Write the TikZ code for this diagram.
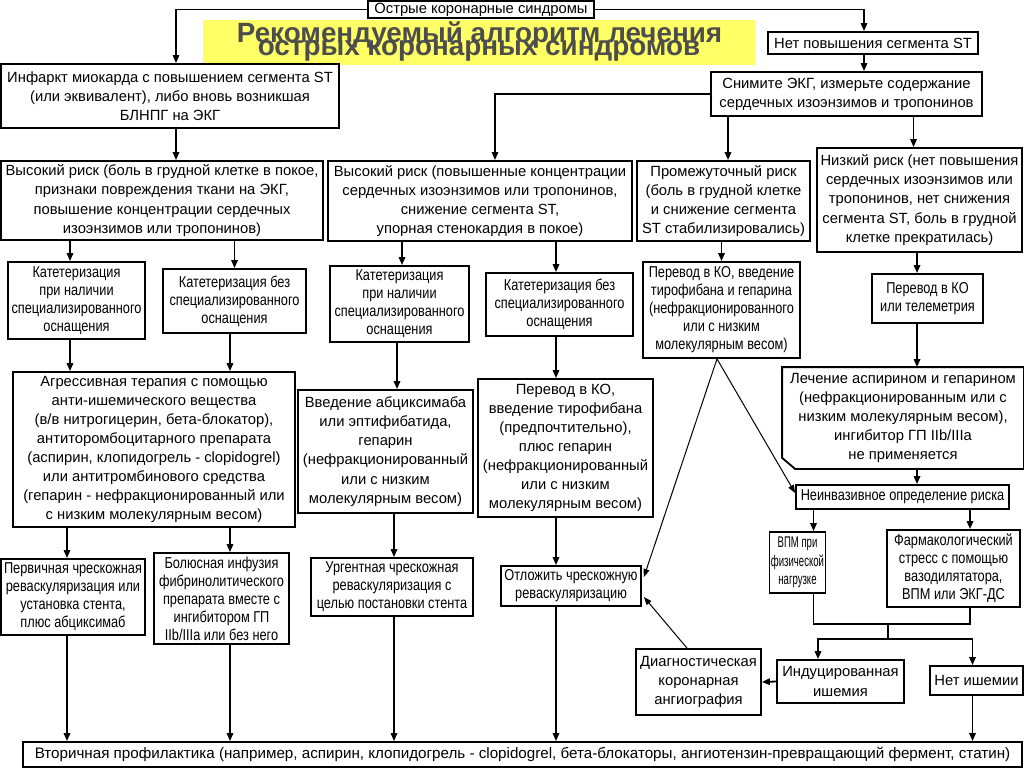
\documentclass[tikz,border=0pt]{standalone}
\usepackage{fontspec}
\setmainfont{Liberation Sans}
\newfontfamily\narrowfont[FakeStretch=0.81]{Liberation Sans}
\newfontfamily\tightfont[FakeStretch=0.62]{Liberation Sans}
\usetikzlibrary{arrows.meta,calc}

\definecolor{titleyellow}{RGB}{255,255,102}
\definecolor{titlegray}{RGB}{77,77,77}

\begin{document}
\begin{tikzpicture}[x=0.25mm, y=-0.25mm,
    block/.style ={draw, fill=white, line width=0.45mm, align=center, inner sep=1pt,
                   font=\fontsize{10.5}{13.6}\selectfont},
    narrowblock/.style ={block, font=\narrowfont\fontsize{11.2}{12.8}\selectfont},
    tightblock/.style ={block, font=\tightfont\fontsize{11}{13}\selectfont},
    heading/.style ={text=titlegray, inner sep=0pt, font=\bfseries\fontsize{19.8}{20}\selectfont},
    px/.style 2 args={minimum width=#1*0.25mm, minimum height=#2*0.25mm},
    joinline/.style ={line width=0.45mm},
    link/.style ={line width=0.45mm, -{Triangle[length=2mm,width=1.6mm]}},
    thinlink/.style ={line width=0.25mm, -{Triangle[length=2mm,width=1.5mm]}}]
   \useasboundingbox (0,0) rectangle (1024,767);
   \fill[white] (0,0) rectangle (1024,767);

   % title
   \fill[titleyellow] (203,20) rectangle (755,65);
   \node[heading, anchor=base] (title1) at (479.5,42.5) {Рекомендуемый алгоритм лечения};
   \node[heading, anchor=base] (title2) at (479,56) {острых коронарных синдромов};

   % top row
   \node[block, px={226}{17}] (acs) at (481,9.5) {Острые коронарные синдромы};
   \node[block, px={338}{64}] (stemi) at (170,96)
     {Инфаркт миокарда с повышением сегмента ST\\(или эквивалент), либо вновь возникшая\\БЛНПГ на ЭКГ};
   \node[block, px={210}{22}] (nost) at (873,43) {Нет повышения сегмента ST};
   \node[block, px={271}{44}] (ecg) at (846.5,94)
     {Снимите ЭКГ, измерьте содержание\\сердечных изоэнзимов и тропонинов};

   % risk groups
   \node[block, px={322}{79}] (hr1) at (162,200.5)
     {Высокий риск (боль в грудной клетке в покое,\\признаки повреждения ткани на ЭКГ,\\повышение концентрации сердечных\\изоэнзимов или тропонинов)};
   \node[block, px={304}{80}] (hr2) at (480,201)
     {Высокий риск (повышенные концентрации\\сердечных изоэнзимов или тропонинов,\\снижение сегмента ST,\\упорная стенокардия в покое)};
   \node[block, px={173}{80}] (mid) at (723.5,201)
     {Промежуточный риск\\(боль в грудной клетке\\и снижение сегмента\\ST стабилизировались)};
   \node[block, px={205}{104}] (low) at (919.5,200)
     {Низкий риск (нет повышения\\сердечных изоэнзимов или\\тропонинов, нет снижения\\сегмента ST, боль в грудной\\клетке прекратилась)};

   % catheterisation
   \node[narrowblock, px={137}{77}] (cath1) at (76.5,300.5)
     {Катетеризация\\при наличии\\специализированного\\оснащения};
   \node[narrowblock, px={143}{64}] (cath2) at (234.5,301)
     {Катетеризация без\\специализированного\\оснащения};
   \node[narrowblock, px={139}{76}] (cath3) at (399.5,304)
     {Катетеризация\\при наличии\\специализированного\\оснащения};
   \node[narrowblock, px={147}{63}] (cath4) at (559.5,304.5)
     {Катетеризация без\\специализированного\\оснащения};
   \node[narrowblock, px={157}{96}] (ccu1) at (721.5,310)
     {Перевод в КО, введение\\тирофибана и гепарина\\(нефракционированного\\или с низким\\молекулярным весом)};
   \node[narrowblock, px={111}{49}] (tele) at (927.5,298.5) {Перевод в КО\\или телеметрия};

   % therapy
   \node[block, px={282}{155}] (aggr) at (154,449.5)
     {Агрессивная терапия с помощью\\анти-ишемического вещества\\(в/в нитрогицерин, бета-блокатор),\\антиторомбоцитарного препарата\\(аспирин, клопидогрель - clopidogrel)\\или антитромбинового средства\\(гепарин - нефракционированный или\\с низким молекулярным весом)};
   \node[block, px={175}{123}] (abcx) at (385.5,451.5)
     {Введение абциксимаба\\или эптифибатида,\\гепарин\\(нефракционированный\\или с низким\\молекулярным весом)};
   \node[block, px={175}{138}] (ccu2) at (565.5,448)
     {Перевод в КО,\\введение тирофибана\\(предпочтительно),\\плюс гепарин\\(нефракционированный\\или с низким\\молекулярным весом)};
   \node[block, draw=none, px={240}{100}] (asp) at (903,418)
     {Лечение аспирином и гепарином\\(нефракционированным или с\\низким молекулярным весом),\\ингибитор ГП IIb/IIIa\\не применяется};
   \draw[joinline] (asp.north west) -- (asp.north east) -- (asp.south east)
     -- ($(asp.south west)+(13,0)$) -- ($(asp.south west)+(0,-11)$) -- cycle;

   % stress testing
   \node[narrowblock, px={213}{24}] (noninv) at (902.5,497) {Неинвазивное определение риска};
   \node[tightblock, px={55}{61}] (ett) at (797.5,562.5) {ВПМ при\\физической\\нагрузке};
   \node[narrowblock, px={133}{77}] (pharm) at (953.5,568.5)
     {Фармакологический\\стресс с помощью\\вазодилятатора,\\ВПМ или ЭКГ-ДС};

   % revascularisation
   \node[narrowblock, px={144}{76}] (pci1) at (73,597)
     {Первичная чрескожная\\реваскуляризация или\\установка стента,\\плюс абциксимаб};
   \node[narrowblock, px={135}{91}] (bolus) at (221.5,598.5)
     {Болюсная инфузия\\фибринолитического\\препарата вместе с\\ингибитором ГП\\IIb/IIIa или без него};
   \node[narrowblock, px={162}{58}] (urg) at (392,587)
     {Ургентная чрескожная\\реваскуляризация с\\целью постановки стента};
   \node[narrowblock, px={140}{40}] (defer) at (571,586)
     {Отложить чрескожную\\реваскуляризацию};
   \node[block, px={125}{66}] (diag) at (698.5,682) {Диагностическая\\коронарная\\ангиография};
   \node[block, px={127}{43}] (ind) at (840.5,681.5) {Индуцированная\\ишемия};
   \node[block, px={93}{29}] (noisch) at (976.5,680.5) {Нет ишемии};
   \node[block, px={999}{25}, font=\fontsize{10.8}{13.6}\selectfont] (sec) at (522.5,754.5)
     {Вторичная профилактика (например, аспирин, клопидогрель - clopidogrel, бета-блокаторы, ангиотензин-превращающий фермент, статин)};

   % connectors
   \draw[link] (acs.west) -| ($(stemi.north)+(6,0)$);
   \draw[link] (acs.east) -| ($(nost.north)+(-9,0)$);
   \draw[link] ($(nost.south)+(-9,0)$) -- ($(nost.south |- ecg.north)+(-9,0)$);
   \draw[link] ($(stemi.south)+(6,0)$) -- ($(stemi.south |- hr1.north)+(6,0)$);
   \draw[link] (ecg.west) -| ($(hr2.north)+(15,0)$);
   \draw[link] ($(mid.north |- ecg.south)+(4.5,0)$) -- ($(mid.north)+(4.5,0)$);
   \draw[link] ($(low.north |- ecg.south)+(-6,0)$) -- ($(low.north)+(-6,0)$);

   \draw[link] ($(cath1.north |- hr1.south)+(-6.5,0)$) -- ($(cath1.north)+(-6.5,0)$);
   \draw[link] (cath2.north |- hr1.south) -- (cath2.north);
   \draw[link] ($(cath3.north |- hr2.south)+(2.5,0)$) -- ($(cath3.north)+(2.5,0)$);
   \draw[link] ($(cath4.north |- hr2.south)+(-3.5,0)$) -- ($(cath4.north)+(-3.5,0)$);
   \draw[link] (ccu1.north |- mid.south) -- (ccu1.north);
   \draw[link] ($(low.south)+(-2.5,0)$) -- ($(low.south |- tele.north)+(-2.5,0)$);
   \draw[link] ($(low.south |- tele.south)+(-2.5,0)$) -- ($(low.south |- asp.north)+(-2.5,0)$);

   \draw[link] ($(cath1.south)+(-6.5,0)$) -- ($(cath1.south |- aggr.north)+(-6.5,0)$);
   \draw[link] ($(cath2.south)+(-4.5,0)$) -- ($(cath2.south |- aggr.north)+(-4.5,0)$);
   \draw[link] ($(cath3.south)+(-2.5,0)$) -- ($(cath3.south |- abcx.north)+(-2.5,0)$);
   \draw[link] ($(cath4.south)+(-3.5,0)$) -- ($(cath4.south |- ccu2.north)+(-3.5,0)$);
   \draw[link] ($(asp.south)+(14,0)$) -- ($(asp.south |- noninv.north)+(14,0)$);

   \draw[thinlink] ($(ccu1.south)+(-4.5,0)$) -- ($(noninv.west)+(0,-4)$);
   \draw[thinlink] ($(ccu1.south)+(-4.5,0)$) -- ($(defer.east)+(2,-9)$);

   \draw[link] ($(pci1.north |- aggr.south)+(-6,0)$) -- ($(pci1.north)+(-6,0)$);
   \draw[link] ($(bolus.north |- aggr.south)+(8.5,0)$) -- ($(bolus.north)+(8.5,0)$);
   \draw[link] ($(urg.north |- abcx.south)+(2,0)$) -- ($(urg.north)+(2,0)$);
   \draw[link] ($(defer.north |- ccu2.south)+(-15,0)$) -- ($(defer.north)+(-15,0)$);

   \draw[link] ($(ett.north |- noninv.south)+(16,0)$) -- ($(ett.north)+(16,0)$);
   \draw[link] ($(pharm.north |- noninv.south)+(16.5,0)$) -- ($(pharm.north)+(16.5,0)$);
   \coordinate (join) at (888,624);
   \coordinate (split) at (888,639);
   \draw[joinline] ($(ett.south)+(16,0)$) |- (join) -| ($(pharm.south)+(16.5,0)$);
   \draw[joinline] (join) -- (split);
   \draw[link] (split) -| ($(ind.north)+(-22.5,0)$);
   \draw[link] (split) -| ($(noisch.north)+(-4,0)$);
   \draw[link] (ind.west) -- (diag.east);
   \draw[thinlink] ($(diag.north)+(-11.5,0)$) -- ($(defer.east)+(2,11)$);

   \draw[link] ($(pci1.south)+(-6,0)$) -- ($(pci1.south |- sec.north)+(-6,0)$);
   \draw[link] ($(bolus.south)+(8.5,0)$) -- ($(bolus.south |- sec.north)+(8.5,0)$);
   \draw[link] ($(urg.south)+(2,0)$) -- ($(urg.south |- sec.north)+(2,0)$);
   \draw[link] ($(defer.south)+(-15,0)$) -- ($(defer.south |- sec.north)+(-15,0)$);
   \draw[link] ($(noisch.south)+(-4,0)$) -- ($(noisch.south |- sec.north)+(-4,0)$);
\end{tikzpicture}
\end{document}
